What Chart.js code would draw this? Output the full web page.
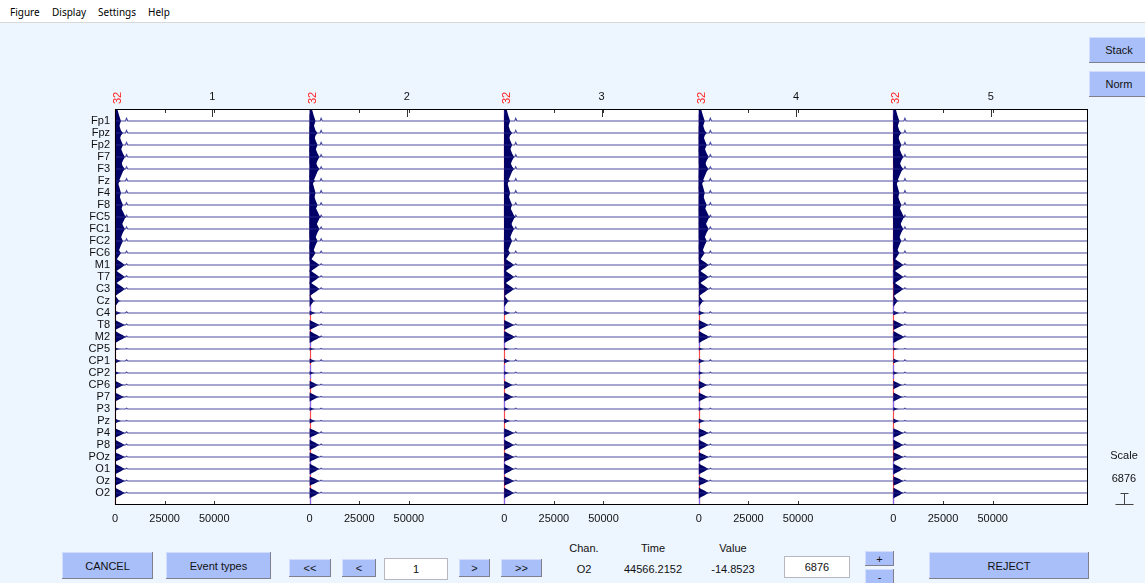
<!DOCTYPE html>
<html>
<head>
<meta charset="utf-8">
<script src="https://cdn.jsdelivr.net/npm/chart.js@4.4.1/dist/chart.umd.min.js"></script>
<style>
  body {
    margin: 0;
    width: 1145px;
    height: 583px;
    position: relative;
    overflow: hidden;
    background: #edf5ff;
    font-family: "Liberation Sans", Arial, sans-serif;
    font-size: 11px;
    color: #111;
  }
  .menubar {
    position: absolute;
    left: 0; top: 0;
    width: 1145px; height: 22px;
    background: #fff;
    border-bottom: 1px solid #d9d9d9;
  }
  .menubar span {
    position: absolute;
    top: 5px;
    font-family: "Noto Sans", sans-serif;
    font-size: 10px;
    color: #000;
  }
  .btn, .box, .txt {
    position: absolute;
    box-sizing: border-box;
    display: flex;
    align-items: center;
    justify-content: center;
  }
  .btn {
    background: #a9bffa;
    box-shadow: inset -1px -1px 0 #7f7f90, inset 1px 1px 0 #d3ddff;
  }
  .box {
    background: #fff;
    border: 1px solid #b5b8c0;
  }
  .txt { width: 90px; height: 14px; }
  #chartWrap {
    position: absolute;
    left: 0; top: 80px;
    width: 1145px; height: 450px;
  }
</style>
</head>
<body>
<div class="menubar">
  <span style="left:10px">Figure</span>
  <span style="left:52px">Display</span>
  <span style="left:98px">Settings</span>
  <span style="left:148px">Help</span>
</div>

<div class="btn" style="left:1089px;top:37px;width:60px;height:26px">Stack</div>
<div class="btn" style="left:1089px;top:71px;width:60px;height:26px">Norm</div>

<div id="chartWrap"><canvas id="eegChart"></canvas></div>

<div class="txt" style="left:1079px;top:448px">Scale</div>
<div class="txt" id="scaleText" style="left:1079px;top:471px"></div>

<div class="btn" style="left:62px;top:552px;width:91px;height:27px">CANCEL</div>
<div class="btn" style="left:166px;top:552px;width:105px;height:27px">Event types</div>
<div class="btn" style="left:289px;top:559px;width:42px;height:18px">&lt;&lt;</div>
<div class="btn" style="left:342px;top:559px;width:34px;height:18px">&lt;</div>
<div class="box" style="left:384px;top:558px;width:64px;height:22px">1</div>
<div class="btn" style="left:459px;top:559px;width:31px;height:18px">&gt;</div>
<div class="btn" style="left:501px;top:559px;width:41px;height:18px">&gt;&gt;</div>

<div class="txt" style="left:539px;top:541px">Chan.</div>
<div class="txt" style="left:608px;top:541px">Time</div>
<div class="txt" style="left:688px;top:541px">Value</div>
<div class="txt" id="curChan" style="left:539px;top:562px"></div>
<div class="txt" id="curTime" style="left:608px;top:562px"></div>
<div class="txt" id="curValue" style="left:688px;top:562px"></div>

<div class="box" id="scaleBox" style="left:784px;top:556px;width:66px;height:22px"></div>
<div class="btn" style="left:865px;top:551px;width:29px;height:15px">+</div>
<div class="btn" style="left:865px;top:569px;width:29px;height:15px">-</div>
<div class="btn" style="left:929px;top:552px;width:160px;height:27px">REJECT</div>

<script>
const channels = [
  "Fp1", "Fpz", "Fp2", "F7", "F3", "Fz", "F4", "F8",
  "FC5", "FC1", "FC2", "FC6", "M1", "T7", "C3", "Cz",
  "C4", "T8", "M2", "CP5", "CP1", "CP2", "CP6", "P7",
  "P3", "Pz", "P4", "P8", "POz", "O1", "Oz", "O2"
];

const epochNumbers = [1, 2, 3, 4, 5];
const epochLength = 98000;
const eventTypes = ["32", "32", "32", "32", "32"];
const eventLatencies = [0, 0, 0, 0, 0];
const latencyTicks = [0, 25000, 50000];
const scaleUV = 6876;

// onset burst envelope (uV) after each event, per channel
const onsetTimes = [0, 1000, 2000, 3000, 4000, 5000, 6000];
const onsetUV = [
  [11000, 7560, 3440, 0, 0, 0, 0],
  [11000, 8250, 4810, 1380, 0, 0, 0],
  [11000, 8940, 6190, 2750, 0, 0, 0],
  [11690, 9630, 7560, 4810, 2060, 0, 0],
  [11690, 9630, 6880, 4130, 1380, 0, 0],
  [6880, 3440, 690, 0, 0, 0, 0],
  [10310, 7560, 4130, 0, 0, 0, 0],
  [11000, 8940, 6190, 2750, 0, 0, 0],
  [12380, 10310, 8250, 5500, 3090, 690, 0],
  [11690, 9630, 7560, 4810, 2060, 0, 0],
  [10310, 8250, 5500, 2410, 0, 0, 0],
  [4810, 3440, 1720, 0, 0, 0, 0],
  [4130, 3300, 2480, 1650, 830, 0, 0],
  [4130, 3300, 2480, 1650, 830, 0, 0],
  [4130, 3300, 2480, 1650, 830, 0, 0],
  [3440, 1720, 340, 0, 0, 0, 0],
  [1240, 830, 410, 0, 0, 0, 0],
  [2890, 2340, 1720, 1170, 550, 0, 0],
  [3440, 2820, 2200, 1580, 960, 340, 0],
  [830, 480, 140, 0, 0, 0, 0],
  [1380, 890, 410, 0, 0, 0, 0],
  [1030, 620, 210, 0, 0, 0, 0],
  [2410, 1860, 1310, 760, 210, 0, 0],
  [2610, 2060, 1440, 830, 280, 0, 0],
  [960, 550, 140, 0, 0, 0, 0],
  [1380, 890, 410, 0, 0, 0, 0],
  [2750, 2200, 1650, 1100, 550, 0, 0],
  [3090, 2480, 1860, 1240, 620, 0, 0],
  [2750, 2200, 1650, 1100, 550, 0, 0],
  [3090, 2480, 1860, 1240, 620, 0, 0],
  [2750, 2200, 1650, 1100, 550, 0, 0],
  [3090, 2480, 1860, 1240, 620, 0, 0]
];

// short deflection right after the burst
const blipTimes = [5300, 5800, 6400];
const blipUV = [
  1500, 1400, 1400, 1300, 1200, 1300, 1300, 1200,
  1000, 1100, 1200, 1000, 700, 700, 700, 0,
  700, 500, 500, 300, 600, 400, 400, 300,
  400, 300, 600, 500, 400, 400, 400, 400
];

const cursorChan = "O2";
const cursorTime = "44566.2152";
const cursorValue = "-14.8523";

const traceColor = "rgba(45, 45, 145, 0.85)";
const burstColor = "#000066";

function setText(id, value) {
  const el = document.getElementById(id);
  if (el) el.textContent = value;
}

function chanPos(i) {
  return i + 1;
}

function buildTrace(i) {
  const pts = [];
  epochNumbers.forEach((n, k) => {
    const start = k * epochLength;
    pts.push({ x: start, y: chanPos(i) });
    pts.push({ x: start + blipTimes[0], y: chanPos(i) });
    pts.push({ x: start + blipTimes[1], y: chanPos(i) - blipUV[i] / scaleUV });
    pts.push({ x: start + blipTimes[2], y: chanPos(i) });
  });
  pts.push({ x: epochNumbers.length * epochLength, y: chanPos(i) });
  return pts;
}

function buildEnvelope(i, sign) {
  const pts = [];
  epochNumbers.forEach((n, k) => {
    const start = k * epochLength + eventLatencies[k];
    onsetTimes.forEach((t, j) => {
      pts.push({ x: start + t, y: chanPos(i) + sign * onsetUV[i][j] / scaleUV });
    });
    pts.push({ x: (k + 1) * epochLength - 1, y: chanPos(i) });
  });
  return pts;
}

function buildDatasets() {
  const sets = [];
  channels.forEach((c, i) => {
    sets.push({
      data: buildEnvelope(i, -1),
      borderWidth: 0,
      pointRadius: 0,
      fill: false,
      order: 2,
      clip: 0
    });
    sets.push({
      data: buildEnvelope(i, 1),
      borderWidth: 0,
      pointRadius: 0,
      fill: "-1",
      backgroundColor: burstColor,
      order: 2,
      clip: 0
    });
  });
  channels.forEach((c, i) => {
    sets.push({
      label: c,
      data: buildTrace(i),
      borderColor: traceColor,
      borderWidth: 1.2,
      pointRadius: 0,
      fill: false,
      order: 0
    });
  });
  return sets;
}

const eegDecor = {
  id: "eegDecor",
  beforeDraw(chart) {
    const a = chart.chartArea;
    const ctx = chart.ctx;
    ctx.save();
    ctx.fillStyle = "#fff";
    ctx.fillRect(a.left, a.top, a.right - a.left, a.bottom - a.top);
    ctx.restore();
  },
  beforeDatasetsDraw(chart) {
    const a = chart.chartArea;
    const ctx = chart.ctx;
    const x = chart.scales.x;
    ctx.save();
    epochNumbers.forEach((n, k) => {
      const px = Math.round(x.getPixelForValue(k * epochLength + eventLatencies[k])) + 0.5;
      ctx.strokeStyle = "#ff4a4a";
      ctx.lineWidth = 1.2;
      ctx.setLineDash([]);
      ctx.beginPath();
      ctx.moveTo(px, a.top);
      ctx.lineTo(px, a.bottom);
      ctx.stroke();
      if (k > 0) {
        ctx.strokeStyle = "rgba(120, 110, 255, 0.9)";
        ctx.setLineDash([14, 18]);
        ctx.beginPath();
        ctx.moveTo(px, a.top);
        ctx.lineTo(px, a.bottom);
        ctx.stroke();
      }
    });
    ctx.restore();
  },
  afterDraw(chart) {
    const a = chart.chartArea;
    const ctx = chart.ctx;
    const x = chart.scales.x;
    const y = chart.scales.y;
    ctx.save();

    // inward tick marks
    ctx.strokeStyle = "#333";
    ctx.lineWidth = 1;
    x.ticks.forEach(t => {
      if (t.value % epochLength === 0) return;
      const px = Math.round(x.getPixelForValue(t.value)) + 0.5;
      ctx.beginPath();
      ctx.moveTo(px, a.bottom);
      ctx.lineTo(px, a.bottom - 4);
      ctx.moveTo(px, a.top);
      ctx.lineTo(px, a.top + 4);
      ctx.stroke();
    });
    chart.scales.x2.ticks.forEach(t => {
      const px = Math.round(x.getPixelForValue(t.value)) + 0.5;
      ctx.beginPath();
      ctx.moveTo(px, a.top);
      ctx.lineTo(px, a.top + 8);
      ctx.stroke();
    });

    // frame
    ctx.strokeStyle = "#000";
    ctx.strokeRect(a.left + 0.5, a.top + 0.5, a.right - a.left - 1, a.bottom - a.top - 1);

    // event type labels
    ctx.fillStyle = "#ff2020";
    ctx.font = "11px 'Liberation Sans', Arial";
    ctx.textAlign = "center";
    ctx.textBaseline = "middle";
    eventTypes.forEach((ev, k) => {
      const px = x.getPixelForValue(k * epochLength + eventLatencies[k]);
      ctx.save();
      ctx.translate(px + 3, a.top - 11);
      ctx.rotate(-Math.PI / 2);
      ctx.fillText(ev, 0, 0);
      ctx.restore();
    });

    // scale bar, one channel spacing tall
    const cx = a.right + 36.5;
    const y0 = Math.round(y.getPixelForValue(channels.length)) + 0.5;
    const y1 = Math.round(y.getPixelForValue(channels.length + 1)) - 0.5;
    ctx.strokeStyle = "#444";
    ctx.beginPath();
    ctx.moveTo(cx, y0);
    ctx.lineTo(cx, y1);
    ctx.moveTo(cx - 4, y0);
    ctx.lineTo(cx + 4, y0);
    ctx.moveTo(cx - 9, y1);
    ctx.lineTo(cx + 9, y1);
    ctx.stroke();
    ctx.restore();
  }
};

function buildChart() {
  const canvas = document.getElementById("eegChart");
  const tickFont = { family: "'Liberation Sans', Arial", size: 11 };
  const xMax = epochNumbers.length * epochLength;

  return new Chart(canvas, {
    type: "line",
    data: { datasets: buildDatasets() },
    options: {
      responsive: true,
      maintainAspectRatio: false,
      animation: false,
      parsing: false,
      normalized: true,
      layout: { padding: { left: 0, right: 57, top: 0, bottom: 0 } },
      plugins: {
        legend: { display: false },
        tooltip: { enabled: false }
      },
      scales: {
        x: {
          type: "linear",
          min: 0,
          max: xMax,
          grid: { display: false, drawTicks: false },
          border: { display: false },
          afterBuildTicks: s => {
            s.ticks = [];
            epochNumbers.forEach((n, k) => {
              latencyTicks.forEach(t => s.ticks.push({ value: k * epochLength + t }));
            });
          },
          afterFit: s => { s.height = 25; },
          ticks: {
            autoSkip: false,
            maxRotation: 0,
            padding: 7,
            color: "#111",
            font: tickFont,
            callback: v => String(v - Math.floor(v / epochLength) * epochLength)
          }
        },
        x2: {
          type: "linear",
          position: "top",
          min: 0,
          max: xMax,
          grid: { display: false, drawTicks: false },
          border: { display: false },
          afterBuildTicks: s => {
            s.ticks = epochNumbers.map((n, k) => ({ value: k * epochLength + epochLength / 2 }));
          },
          afterFit: s => { s.height = 29; },
          ticks: {
            autoSkip: false,
            maxRotation: 0,
            padding: 5,
            color: "#111",
            font: tickFont,
            callback: v => String(epochNumbers[Math.floor(v / epochLength)])
          }
        },
        y: {
          type: "linear",
          reverse: true,
          min: 0,
          max: channels.length + 1,
          grid: { display: false, drawTicks: false },
          border: { display: false },
          afterBuildTicks: s => {
            s.ticks = channels.map((c, i) => ({ value: chanPos(i) }));
          },
          afterFit: s => { s.width = 115; },
          ticks: {
            autoSkip: false,
            padding: 5,
            color: "#111",
            font: tickFont,
            callback: v => channels[v - 1]
          }
        }
      }
    },
    plugins: [eegDecor]
  });
}

document.addEventListener("DOMContentLoaded", () => {
  setText("scaleText", String(scaleUV));
  setText("scaleBox", String(scaleUV));
  setText("curChan", cursorChan);
  setText("curTime", cursorTime);
  setText("curValue", cursorValue);
  buildChart();
});
</script>
</body>
</html>
